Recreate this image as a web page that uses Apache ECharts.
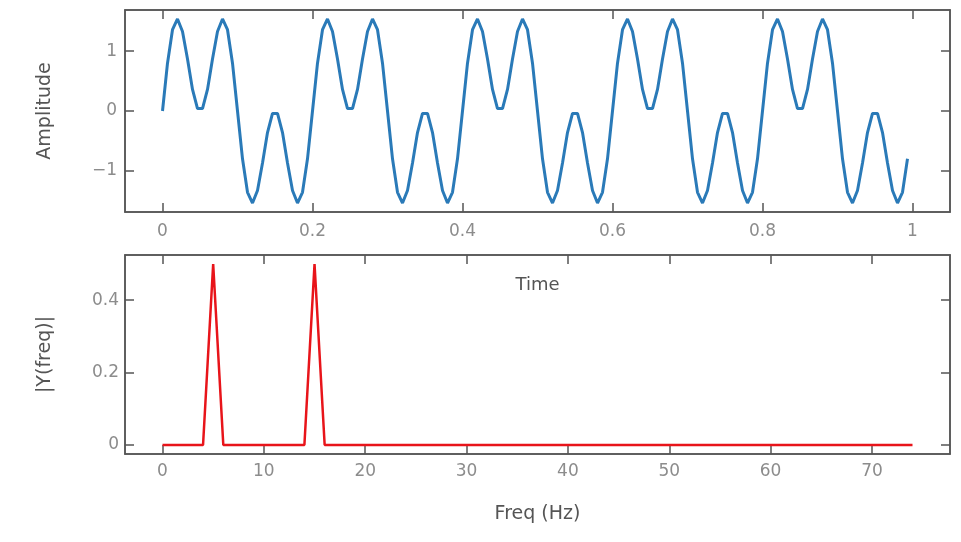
<!DOCTYPE html>
<html>
<head>
<meta charset="utf-8">
<script src="https://cdn.jsdelivr.net/npm/echarts@6/dist/echarts.min.js"></script>
<style>
  html, body { margin: 0; padding: 0; background: #fff; }
  #chart { width: 961px; height: 542px; }
</style>
</head>
<body>
<div id="chart"></div>
<script>
// sampled signal, 150 samples per second
const sampleRate = 150;
const signalValues = [
  0, 0.80, 1.36, 1.54, 1.33, 0.87, 0.36, 0.04, 0.04, 0.36, 0.87, 1.33, 1.54, 1.36, 0.80,
  0, -0.80, -1.36, -1.54, -1.33, -0.87, -0.36, -0.04, -0.04, -0.36, -0.87, -1.33, -1.54, -1.36, -0.80,
  0, 0.80, 1.36, 1.54, 1.33, 0.87, 0.36, 0.04, 0.04, 0.36, 0.87, 1.33, 1.54, 1.36, 0.80,
  0, -0.80, -1.36, -1.54, -1.33, -0.87, -0.36, -0.04, -0.04, -0.36, -0.87, -1.33, -1.54, -1.36, -0.80,
  0, 0.80, 1.36, 1.54, 1.33, 0.87, 0.36, 0.04, 0.04, 0.36, 0.87, 1.33, 1.54, 1.36, 0.80,
  0, -0.80, -1.36, -1.54, -1.33, -0.87, -0.36, -0.04, -0.04, -0.36, -0.87, -1.33, -1.54, -1.36, -0.80,
  0, 0.80, 1.36, 1.54, 1.33, 0.87, 0.36, 0.04, 0.04, 0.36, 0.87, 1.33, 1.54, 1.36, 0.80,
  0, -0.80, -1.36, -1.54, -1.33, -0.87, -0.36, -0.04, -0.04, -0.36, -0.87, -1.33, -1.54, -1.36, -0.80,
  0, 0.80, 1.36, 1.54, 1.33, 0.87, 0.36, 0.04, 0.04, 0.36, 0.87, 1.33, 1.54, 1.36, 0.80,
  0, -0.80, -1.36, -1.54, -1.33, -0.87, -0.36, -0.04, -0.04, -0.36, -0.87, -1.33, -1.54, -1.36, -0.80
];

// single sided spectrum, one bin per Hz (0..74)
const spectrumValues = [
  0, 0, 0, 0, 0, 0.5, 0, 0, 0, 0,
  0, 0, 0, 0, 0, 0.5, 0, 0, 0, 0,
  0, 0, 0, 0, 0, 0, 0, 0, 0, 0,
  0, 0, 0, 0, 0, 0, 0, 0, 0, 0,
  0, 0, 0, 0, 0, 0, 0, 0, 0, 0,
  0, 0, 0, 0, 0, 0, 0, 0, 0, 0,
  0, 0, 0, 0, 0, 0, 0, 0, 0, 0,
  0, 0, 0, 0, 0
];

const timeTicks = [0, 0.2, 0.4, 0.6, 0.8, 1];
const ampTicks = [-1, 0, 1];
const freqTicks = [0, 10, 20, 30, 40, 50, 60, 70];
const magTicks = [0, 0.2, 0.4];

const frame = '#555';
const labelColor = '#8c8c8c';
const nameColor = '#555';
const fontFamily = 'DejaVu Sans';

function fmt(v) {
  return v < 0 ? '\u2212' + Math.abs(v) : String(v);
}

function axisBase(ticks, min, max, gridIndex, position, showLabels, labelMargin) {
  return {
    type: 'value',
    gridIndex: gridIndex,
    position: position,
    min: min,
    max: max,
    splitLine: { show: false },
    axisLine: { show: true, onZero: false, lineStyle: { color: frame, width: 1.5 } },
    axisTick: {
      show: true,
      inside: true,
      length: 9,
      customValues: ticks,
      lineStyle: { color: frame, width: 1.5 }
    },
    axisLabel: {
      show: showLabels,
      customValues: ticks,
      margin: labelMargin,
      color: labelColor,
      fontSize: 17,
      fontFamily: fontFamily,
      formatter: fmt
    }
  };
}

const timeData = signalValues.map((v, i) => [i / sampleRate, v]);
const freqData = spectrumValues.map((v, i) => [i, v]);

const chart = echarts.init(document.getElementById('chart'));

const xTop = axisBase(timeTicks, -0.05, 1.05, 0, 'bottom', true, 11);
xTop.name = 'Time';
xTop.nameLocation = 'middle';
xTop.nameGap = 64;
xTop.nameTextStyle = { color: nameColor, fontSize: 18, fontFamily: fontFamily };

const xBottom = axisBase(freqTicks, -3.7, 77.7, 1, 'bottom', true, 9);
xBottom.name = 'Freq (Hz)';
xBottom.nameLocation = 'middle';
xBottom.nameGap = 51;
xBottom.nameTextStyle = { color: nameColor, fontSize: 19, fontFamily: fontFamily };

const yTop = axisBase(ampTicks, -1.69, 1.69, 0, 'left', true, 8);
yTop.name = 'Amplitude';
yTop.nameLocation = 'middle';
yTop.nameGap = 70;
yTop.nameTextStyle = { color: nameColor, fontSize: 19, fontFamily: fontFamily };

const yBottom = axisBase(magTicks, -0.025, 0.525, 1, 'left', true, 6);
yBottom.name = '|Y(freq)|';
yBottom.nameLocation = 'middle';
yBottom.nameGap = 70;
yBottom.nameTextStyle = { color: nameColor, fontSize: 19, fontFamily: fontFamily };

chart.setOption({
  animation: false,
  backgroundColor: '#fff',
  grid: [
    { left: 125, top: 10, right: 11, height: 202, show: true, borderColor: frame, borderWidth: 1.5 },
    { left: 125, top: 255, right: 11, height: 199, show: true, borderColor: frame, borderWidth: 1.5 }
  ],
  xAxis: [
    xTop,
    xBottom,
    axisBase(timeTicks, -0.05, 1.05, 0, 'top', false, 8),
    axisBase(freqTicks, -3.7, 77.7, 1, 'top', false, 8)
  ],
  yAxis: [
    yTop,
    yBottom,
    axisBase(ampTicks, -1.69, 1.69, 0, 'right', false, 8),
    axisBase(magTicks, -0.025, 0.525, 1, 'right', false, 8)
  ],
  series: [
    {
      name: 'signal',
      type: 'line',
      xAxisIndex: 0,
      yAxisIndex: 0,
      data: timeData,
      showSymbol: false,
      lineStyle: { color: '#2a7ab8', width: 3 }
    },
    {
      name: 'spectrum',
      type: 'line',
      xAxisIndex: 1,
      yAxisIndex: 1,
      data: freqData,
      showSymbol: false,
      lineStyle: { color: '#e8141a', width: 2.5 }
    }
  ]
});
</script>
</body>
</html>
